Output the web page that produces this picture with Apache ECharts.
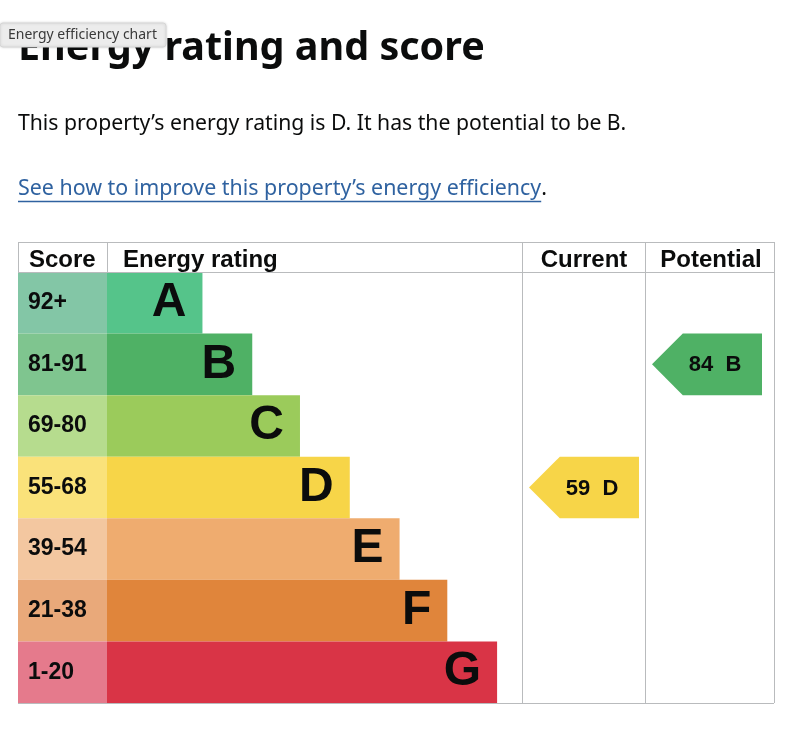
<!DOCTYPE html>
<html>
<head>
<meta charset="utf-8">
<title>Energy rating and score</title>
<script src="https://cdn.jsdelivr.net/npm/echarts@6/dist/echarts.min.js"></script>
<style>
    html, body { margin: 0; padding: 0; background: #fff; }
    #chart { width: 800px; height: 742px; }
</style>
</head>
<body>
<div id="chart"></div>
<script>
// rating bands, top (best) to bottom
const bandLetters = ['A', 'B', 'C', 'D', 'E', 'F', 'G'];
const scoreRanges = ['92+', '81-91', '69-80', '55-68', '39-54', '21-38', '1-20'];
// bar length of each band, as a share of the "Energy rating" column
const bandLengths = [23, 35, 46.5, 58.5, 70.5, 82, 94];
const bandColors = ['#55c48a', '#4fb165', '#9bcb5b', '#f7d548', '#efac6f', '#e0853b', '#d93446'];
const scoreColors = ['#83c6a6', '#7fc58f', '#b6dc8e', '#fae27a', '#f3c7a0', '#e9a97a', '#e57a8c'];

// current / potential columns
const columnNames = ['Current', 'Potential'];
const columnScores = [59, 84];
const columnBands = ['D', 'B'];

const headFont = '"Liberation Sans", Arial, sans-serif';
const bodyFont = '"Noto Sans", "Liberation Sans", sans-serif';
const lineColor = '#b9bbbd';
const linkColor = '#2f62a0';

var chart = echarts.init(document.getElementById('chart'));

var tableTop = 272, tableBottom = 703;
var cols = [18, 107, 522, 645, 774];

var grids = [];
for (var i = 0; i < 4; i++) {
    grids.push({
        left: cols[i],
        width: cols[i + 1] - cols[i],
        top: tableTop,
        height: tableBottom - tableTop,
        containLabel: false
    });
}

var xAxes = grids.map(function (g, i) {
    return {gridIndex: i, type: 'value', min: 0, max: i === 1 ? 100 : 1, show: false};
});
var yAxes = grids.map(function (g, i) {
    return {gridIndex: i, type: 'category', data: bandLetters, inverse: true, show: false};
});

const arrowItem = function (params, api) {
    var idx = api.value(1);
    var c = api.coord([0, idx]);
    var h = api.size([0, 1])[1];
    var left = c[0] + 7;
    var w = 110;
    var top = c[1] - h / 2;
    var bottom = c[1] + h / 2;
    return {
        type: 'group',
        children: [{
                type: 'polygon',
                shape: {points: [[left, c[1]], [left + h / 2, top], [left + w, top], [left + w, bottom], [left + h / 2, bottom]]},
                style: {fill: bandColors[idx]}
            }, {
                type: 'text',
                style: {
                    text: api.value(2) + '  ' + bandLetters[idx],
                    x: left + 63,
                    y: c[1] + 1,
                    align: 'center',
                    verticalAlign: 'middle',
                    fill: '#0b0c0c',
                    font: 'bold 22px ' + headFont
                }
            }]
    };
};

var series = [{
        type: 'bar',
        name: 'Score',
        xAxisIndex: 0,
        yAxisIndex: 0,
        barWidth: '100%',
        silent: true,
        data: scoreRanges.map(function (s, i) {
            return {value: 1, itemStyle: {color: scoreColors[i]}};
        }),
        label: {
            show: true,
            position: 'insideLeft',
            distance: 10,
            formatter: function (p) {
                return scoreRanges[p.dataIndex];
            },
            color: '#0b0c0c',
            fontFamily: headFont,
            fontWeight: 'bold',
            fontSize: 23
        }
    }, {
        type: 'bar',
        name: 'Energy rating',
        xAxisIndex: 1,
        yAxisIndex: 1,
        barWidth: '100%',
        silent: true,
        data: bandLengths.map(function (v, i) {
            return {value: v, itemStyle: {color: bandColors[i]}};
        }),
        label: {
            show: true,
            position: 'insideRight',
            distance: 16,
            formatter: function (p) {
                return bandLetters[p.dataIndex];
            },
            color: '#0b0c0c',
            fontFamily: headFont,
            fontWeight: 'bold',
            fontSize: 48
        }
    }];

columnNames.forEach(function (name, i) {
    series.push({
        type: 'custom',
        name: name,
        xAxisIndex: 2 + i,
        yAxisIndex: 2 + i,
        silent: true,
        renderItem: arrowItem,
        data: [[0, bandLetters.indexOf(columnBands[i]), columnScores[i]]]
    });
});

// table frame and header
var graphics = [];
var hline = function (x1, x2, y, color, width) {
    graphics.push({type: 'line', z: 10, shape: {x1: x1, y1: y, x2: x2, y2: y},
        style: {stroke: color || lineColor, lineWidth: width || 1}});
};
var vline = function (x, y1, y2) {
    graphics.push({type: 'line', z: 10, shape: {x1: x, y1: y1, x2: x, y2: y2},
        style: {stroke: lineColor, lineWidth: 1}});
};
hline(18, 774, 242.5);
hline(18, 774, 272.5);
hline(18, 774, 703.5);
vline(18.5, 242, 272);
vline(107.5, 242, 272);
vline(522.5, 242, 703);
vline(645.5, 242, 703);
vline(774.5, 242, 703);

var headText = function (text, x, align) {
    graphics.push({
        type: 'text', x: x, y: 260, z: 10,
        style: {text: text, textAlign: align, textVerticalAlign: 'middle', fill: '#0b0c0c', font: 'bold 24px ' + headFont}
    });
};
headText('Score', 29, 'left');
headText('Energy rating', 123, 'left');
headText(columnNames[0], 584, 'center');
headText(columnNames[1], 711, 'center');

// heading, summary and link
graphics.push({
    type: 'text', x: 18, y: 49, z: 10,
    style: {text: 'Energy rating and score', textVerticalAlign: 'middle', fill: '#0b0c0c', font: 'bold 39.5px ' + bodyFont}
});
graphics.push({
    type: 'text', x: 18, y: 124, z: 10,
    style: {text: 'This property\u2019s energy rating is ' + columnBands[0] + '. It has the potential to be ' + columnBands[1] + '.',
        textVerticalAlign: 'middle', fill: '#0b0c0c', font: '21.2px ' + bodyFont}
});

var linkText = 'See how to improve this property\u2019s energy efficiency';
var linkFont = '21.4px ' + bodyFont;
var ctx = document.createElement('canvas').getContext('2d');
ctx.font = linkFont;
var linkWidth = ctx.measureText(linkText).width;
graphics.push({
    type: 'text', x: 18, y: 189, z: 10,
    style: {text: linkText, textVerticalAlign: 'middle', fill: linkColor, font: linkFont}
});
graphics.push({
    type: 'text', x: 18 + linkWidth, y: 189, z: 10,
    style: {text: '.', textVerticalAlign: 'middle', fill: '#0b0c0c', font: linkFont}
});
hline(18, 18 + linkWidth, 201.5, linkColor, 1.5);

// browser tooltip over the heading
graphics.push({
    type: 'rect', z: 20,
    shape: {x: 0, y: 23, width: 166, height: 24, r: 3},
    style: {fill: '#ececec', stroke: '#d6d6d6', lineWidth: 1, shadowBlur: 3, shadowColor: 'rgba(0,0,0,0.15)'}
});
graphics.push({
    type: 'text', x: 8, y: 35, z: 21,
    style: {text: 'Energy efficiency chart', textVerticalAlign: 'middle', fill: '#3a3a3a', font: '14px ' + bodyFont}
});

chart.setOption({
    animation: false,
    grid: grids,
    xAxis: xAxes,
    yAxis: yAxes,
    series: series,
    graphic: graphics
});
</script>
</body>
</html>
